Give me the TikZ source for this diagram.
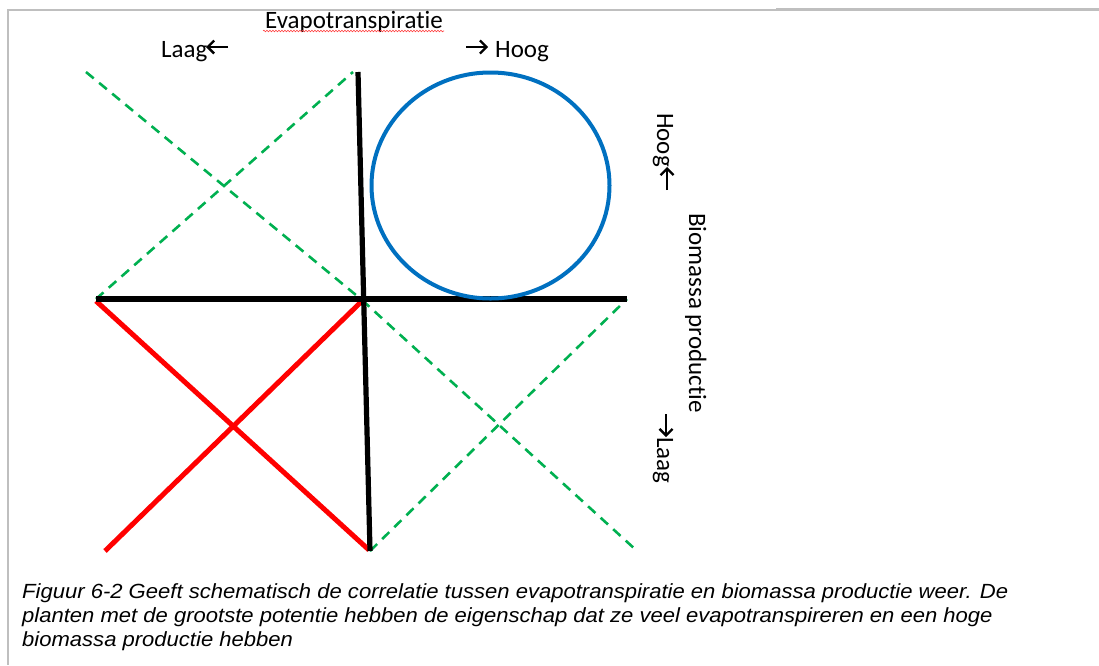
\documentclass[tikz,border=0pt]{standalone}
\usepackage{fontspec}
\setmainfont{Carlito}[Ligatures=NoCommon]
\newfontfamily\arialfont{Liberation Sans}
\usetikzlibrary{decorations.pathmorphing,shapes.geometric,arrows.meta}
\definecolor{axisgray}{HTML}{BFBFBF}
\definecolor{circblue}{HTML}{0070C0}
\definecolor{dashgreen}{HTML}{00B050}
\tikzset{
  axisline/.style={line width=5.2pt, black},
  redline/.style={line width=5pt, red},
  greendash/.style={line width=2.6pt, dashgreen, dash pattern=on 10pt off 7pt},
  lbl/.style={font=\fontsize{25}{28}\selectfont, inner sep=0pt},
  txtarrow/.style={line width=2.3pt, -{Straight Barb[length=6.5pt,width=13pt,line width=2.3pt]}},
  caption/.style={font=\arialfont\itshape\fontsize{20.5}{24}\selectfont, inner sep=0pt, anchor=base west, xscale=1.075},
}
\begin{document}
\begin{tikzpicture}[x=1pt, y=-1pt]
\useasboundingbox (0,0) rectangle (1099,665);
% page frame
\draw[axisgray, line width=1.2pt] (7,10) -- (776,10);
\draw[axisgray, line width=2.4pt] (776,9.5) -- (1099,9.5);
\draw[axisgray, line width=2.6pt] (8,9) -- (8,665);

% axis end points
\coordinate (vt) at (358,72);
\coordinate (vb) at (370,551);
\coordinate (hl) at (96,299);
\coordinate (hr) at (627,299);
\coordinate (o) at (362,300);

% dashed cross, upper left
\coordinate (g1a) at (86,72);
\coordinate (g2b) at (353,72);
\draw[greendash] (g1a) -- (o);
\draw[greendash] (hl) -- (g2b);
% dashed cross, lower right
\coordinate (g3b) at (636,550);
\draw[greendash] (o) -- (g3b);
\draw[greendash] (vb) -- (hr);

% red cross, lower left
\coordinate (r1b) at (369,550);
\coordinate (r2a) at (105,551);
\coordinate (r2b) at (361,302);
\draw[redline] (96,301) -- (r1b);
\draw[redline] (r2a) -- (r2b);

% axes
\draw[axisline] (vt) -- (vb);
\draw[axisline] (hl) -- (hr);

% circle, upper right
\node[draw=circblue, line width=4pt, ellipse, minimum width=238pt, minimum height=226pt, inner sep=0pt] (circ) at (490.5,185.5) {};

% axis titles
\node[lbl, anchor=base] (et) at (354,28) {Evapotranspiratie};
\draw[red!75, line width=0.6pt, decorate, decoration={snake, amplitude=0.8pt, segment length=3pt}] (263,31) -- (444,31);
\node[lbl, rotate=-90, anchor=base west] (bio) at (689,213) {Biomassa productie};

% low / high markers
\node[lbl, anchor=base west] (laag) at (161,57) {Laag};
\node[lbl, anchor=base west] (hoog) at (495,57) {Hoog};
\node[lbl, rotate=-90, anchor=base west] (vhoog) at (657,113) {Hoog};
\node[lbl, rotate=-90, anchor=base west] (vlaag) at (657,437) {Laag};

\coordinate (la1) at (228,47);  \coordinate (la2) at (206,47);
\coordinate (ha1) at (466,47);  \coordinate (ha2) at (488,47);
\coordinate (va1) at (667,190); \coordinate (va2) at (667,167);
\coordinate (vb1) at (666,414); \coordinate (vb2) at (666,437);
\draw[txtarrow] (la1) -- (la2);
\draw[txtarrow] (ha1) -- (ha2);
\draw[txtarrow] (va1) -- (va2);
\draw[txtarrow] (vb1) -- (vb2);

% caption
\node[caption] (c1) at (22,598) {Figuur 6-2 Geeft schematisch de correlatie tussen evapotranspiratie en biomassa productie weer. De};
\node[caption] (c2) at (22,622) {planten met de grootste potentie hebben de eigenschap dat ze veel evapotranspireren en een hoge};
\node[caption] (c3) at (22,646) {biomassa productie hebben};
\end{tikzpicture}
\end{document}
